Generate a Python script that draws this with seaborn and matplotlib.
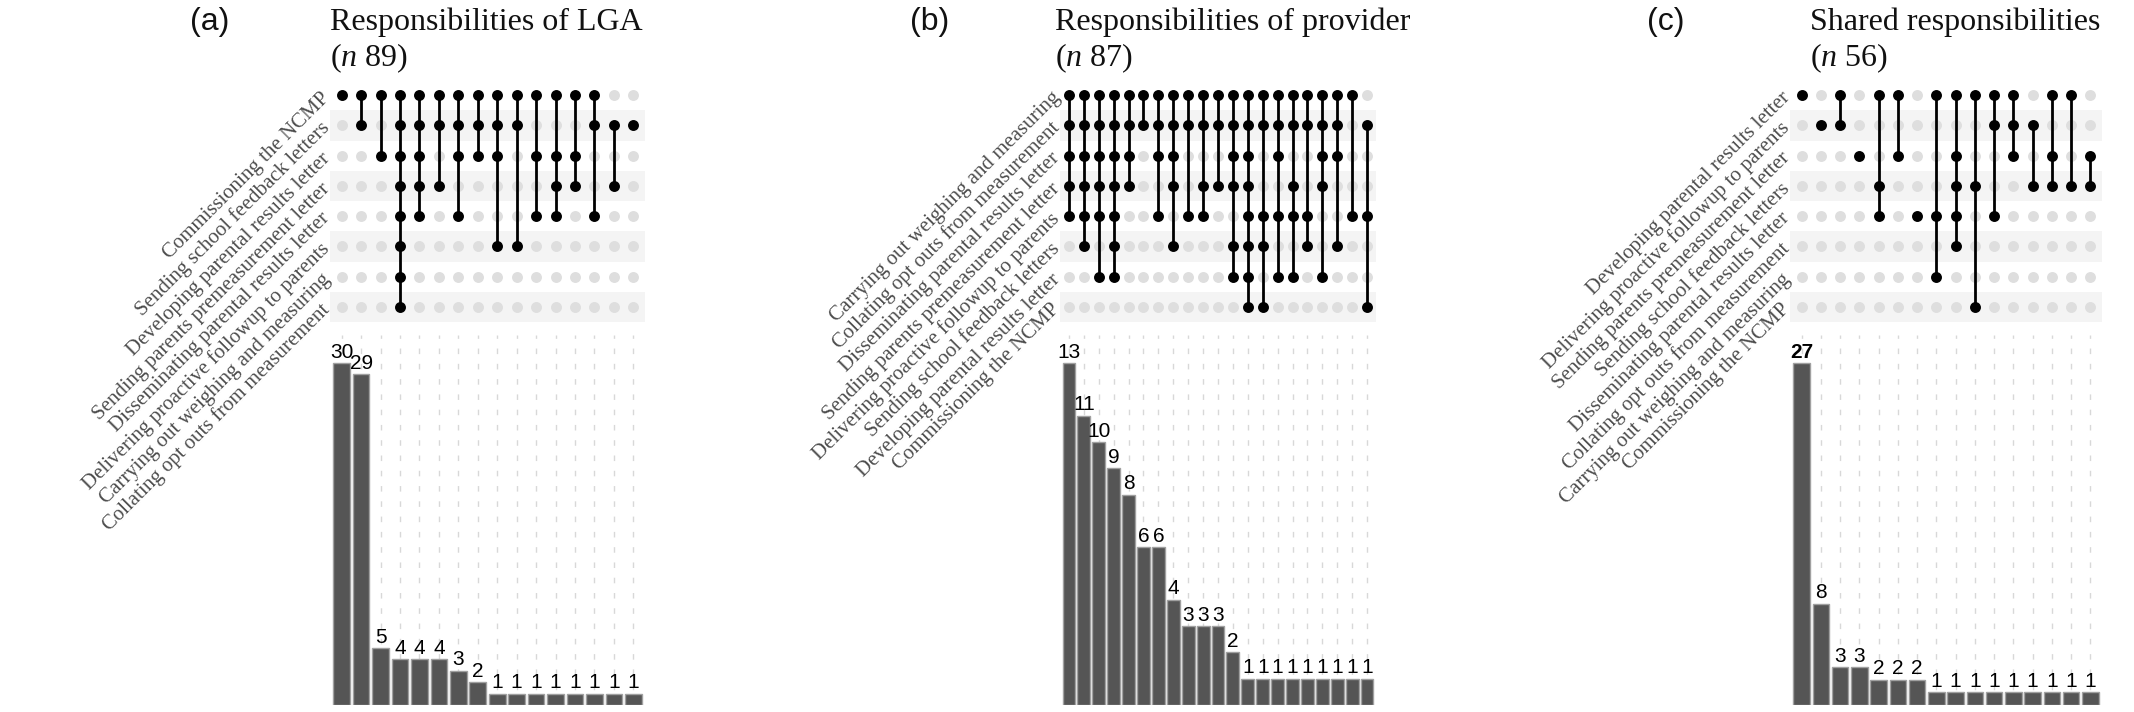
import matplotlib
matplotlib.use("Agg")
import matplotlib.pyplot as plt
import seaborn as sns
import pandas as pd
import numpy as np

# ---------------- data ----------------
letters = ["(a)", "(b)", "(c)"]
titles = ["Responsibilities of LGA", "Responsibilities of provider", "Shared responsibilities"]
n_totals = [89, 87, 56]

sets_a = ["Commissioning the NCMP", "Sending school feedback letters",
          "Developing parental results letter", "Sending parents premeasurement letter",
          "Disseminating parental results letter", "Delivering proactive followup to parents",
          "Carrying out weighing and measuring", "Collating opt outs from measurement"]
counts_a = [30, 29, 5, 4, 4, 4, 3, 2, 1, 1, 1, 1, 1, 1, 1, 1]
members_a = [[1], [1, 2], [1, 3], [1, 2, 3, 4, 5, 6, 7, 8], [1, 2, 3, 4, 5], [1, 2, 4],
             [1, 2, 3, 5], [1, 2, 3], [1, 2, 3, 6], [1, 2, 6], [1, 3, 5], [1, 3, 4, 5],
             [1, 3, 4], [1, 2, 5], [2, 4], [2]]

sets_b = ["Carrying out weighing and measuring", "Collating opt outs from measurement",
          "Disseminating parental results letter", "Sending parents premeasurement letter",
          "Delivering proactive followup to parents", "Sending school feedback letters",
          "Developing parental results letter", "Commissioning the NCMP"]
counts_b = [13, 11, 10, 9, 8, 6, 6, 4, 3, 3, 3, 2, 1, 1, 1, 1, 1, 1, 1, 1, 1]
members_b = [[1, 2, 3, 4, 5], [1, 2, 3, 4, 5, 6], [1, 2, 3, 4, 5, 7], [1, 2, 3, 4, 5, 6, 7],
             [1, 2, 3, 4], [1, 2], [1, 2, 3, 5], [1, 2, 3, 4, 6], [1, 2, 5], [1, 2, 4, 5],
             [1, 2, 4], [1, 2, 3, 4, 6, 7], [1, 2, 3, 4, 5, 6, 7, 8], [1, 2, 5, 6, 8],
             [1, 2, 3, 5, 7], [1, 2, 4, 5, 7], [1, 2, 5, 6], [1, 2, 3, 4, 7], [1, 2, 3, 6],
             [1, 5], [2, 5, 8]]

sets_c = ["Developing parental results letter", "Delivering proactive followup to parents",
          "Sending parents premeasurement letter", "Sending school feedback letters",
          "Disseminating parental results letter", "Collating opt outs from measurement",
          "Carrying out weighing and measuring", "Commissioning the NCMP"]
counts_c = [27, 8, 3, 3, 2, 2, 2, 1, 1, 1, 1, 1, 1, 1, 1, 1]
members_c = [[1], [2], [1, 2], [3], [1, 4, 5], [1, 3], [5], [1, 5, 7], [1, 3, 4, 5, 6],
             [1, 4, 8], [1, 2, 5], [1, 2, 3], [2, 4], [1, 3, 4], [1, 4], [3, 4]]

# ---------------- style ----------------
sns.set_style("white")
plt.rcParams["font.family"] = ["Liberation Serif", "DejaVu Serif"]
plt.rcParams["mathtext.fontset"] = "custom"
plt.rcParams["mathtext.rm"] = "Liberation Serif"
plt.rcParams["mathtext.it"] = "Liberation Serif:italic"

W, H = 2134, 712
fig = plt.figure(figsize=(W / 100, H / 100), dpi=100)


def box(l, t, r, b):
    return [l / W, 1 - b / H, (r - l) / W, (b - t) / H]


panels = [
    dict(sets=sets_a, counts=counts_a, members=members_a, l=330, r=645, letter_x=190, title_x=330),
    dict(sets=sets_b, counts=counts_b, members=members_b, l=1060, r=1376, letter_x=910, title_x=1055),
    dict(sets=sets_c, counts=counts_c, members=members_c, l=1790, r=2102, letter_x=1647, title_x=1810),
]

MAT_T, MAT_B = 80, 322
BAR_T, BAR_B = 335, 705

for i, p in enumerate(panels):
    sets, counts, members = p["sets"], p["counts"], p["members"]
    n = len(counts)
    nrows = len(sets)

    # ---- matrix ----
    axm = fig.add_axes(box(p["l"], MAT_T, p["r"], MAT_B))
    for k in range(nrows):
        if k % 2 == 1:
            axm.axhspan(k - 0.5, k + 0.5, color="#f4f4f4", lw=0, zorder=0)
    recs = []
    for j, mem in enumerate(members):
        for k in range(nrows):
            recs.append(dict(col=j, row=k, member=(k + 1) in mem))
    df = pd.DataFrame(recs)
    sns.scatterplot(data=df[~df["member"]], x="col", y="row", color="#dedede",
                    s=62, linewidth=0, legend=False, ax=axm, zorder=2)
    for j, mem in enumerate(members):
        if len(mem) > 1:
            axm.vlines(j, min(mem) - 1, max(mem) - 1, color="black", lw=2.0, zorder=3)
    sns.scatterplot(data=df[df["member"]], x="col", y="row", color="black",
                    s=62, linewidth=0, legend=False, ax=axm, zorder=4)
    axm.set_xlim(-0.6, n - 0.4)
    axm.set_ylim(nrows - 0.5, -0.5)
    axm.set_xticks([])
    axm.set_yticks(range(nrows))
    axm.set_yticklabels(sets, rotation=45, ha="right", va="center",
                        rotation_mode="anchor", fontsize=15, color="#4d4d4d")
    axm.tick_params(axis="y", length=0, pad=2)
    axm.set_xlabel("")
    axm.set_ylabel("")
    for s in axm.spines.values():
        s.set_visible(False)

    # ---- bars ----
    axb = fig.add_axes(box(p["l"], BAR_T, p["r"], BAR_B))
    bdf = pd.DataFrame(dict(col=list(range(n)), count=counts))
    sns.barplot(data=bdf, x="col", y="count", color="#555555", saturation=1,
                edgecolor="#a0a0a0", linewidth=1, width=0.86, ax=axb, zorder=2)
    labs = axb.bar_label(axb.containers[0], labels=[str(c) for c in counts],
                         padding=1, fontsize=15, family="Liberation Sans", color="black")
    if i == 2:
        labs[0].set_fontweight("bold")
    axb.set_xlim(-0.6, n - 0.4)
    axb.set_ylim(0, max(counts) * 1.082)
    axb.set_xticks(range(n))
    axb.set_xticklabels([])
    axb.set_yticks([])
    axb.tick_params(length=0)
    axb.grid(axis="x", color="#d8d8d8", linestyle=(0, (4, 7)), lw=1)
    axb.set_axisbelow(True)
    axb.set_xlabel("")
    axb.set_ylabel("")
    for s in axb.spines.values():
        s.set_visible(False)

    # ---- titles ----
    fig.text(p["letter_x"] / W, 1 - 22 / H, letters[i], family="Liberation Sans",
             fontsize=23, va="center", ha="left", color="#111111")
    fig.text(p["title_x"] / W, 1 - 22 / H, titles[i], fontsize=23, va="center",
             ha="left", color="#111111")
    fig.text(p["title_x"] / W, 1 - 58 / H, r"($\mathit{n}$ " + str(n_totals[i]) + ")",
             fontsize=23, va="center", ha="left", color="#111111")

fig.savefig("out.png", dpi=100)
